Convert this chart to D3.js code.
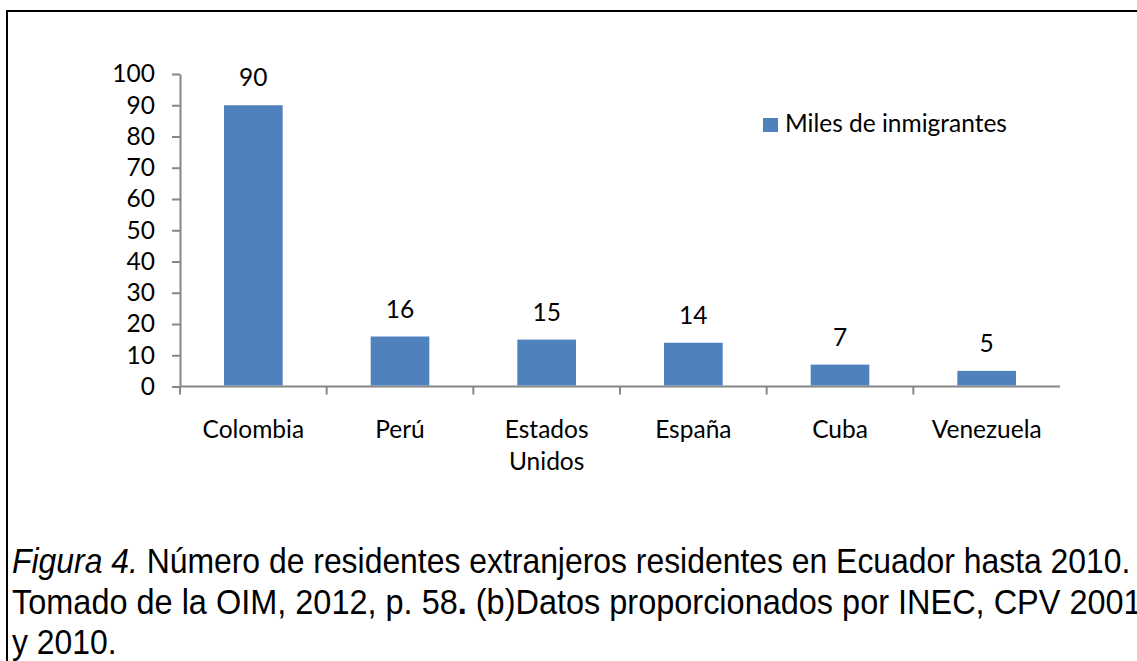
<!DOCTYPE html>
<html>
<head>
<meta charset="utf-8">
<script src="https://cdn.jsdelivr.net/npm/d3@7"></script>
<style>
  body { margin: 0; background: #fff; }
  svg { display: block; }
  .chart-text { font-family: Lato, "Noto Sans", sans-serif; font-size: 24.5px; fill: #000; }
  .caption { font-family: "Liberation Sans", Arial, sans-serif; font-size: 35px; fill: #000; }
</style>
</head>
<body>
<svg id="canvas"></svg>
<script>
// Data
var countries = ['Colombia', 'Perú', 'Estados Unidos', 'España', 'Cuba', 'Venezuela'];
var immigrants = [90, 16, 15, 14, 7, 5];
var yTicks = [0, 10, 20, 30, 40, 50, 60, 70, 80, 90, 100];
var seriesName = 'Miles de inmigrantes';
var captionLines = [
  [{ text: 'Figura 4.', italic: true }, { text: ' Número de residentes extranjeros residentes en Ecuador hasta 2010.' }],
  [{ text: 'Tomado de la OIM, 2012, p. 58' }, { text: '.', bold: true }, { text: ' (b)Datos proporcionados por INEC, CPV 2001' }],
  [{ text: 'y 2010.' }]
];

// Canvas size
var canvasWidth = 1137;
var canvasHeight = 661;

// Plot area
var plot = {
  left: 180,
  right: 1060,
  top: 74,
  bottom: 386.5
};

var barColor = '#4f81bd';
var axisColor = '#868686';

function drawChart() {
  var svg = d3.select('#canvas')
    .attr('width', canvasWidth)
    .attr('height', canvasHeight);

  svg.append('rect')
    .attr('width', canvasWidth)
    .attr('height', canvasHeight)
    .attr('fill', '#fff');

  // Frame (top and left edges only show)
  svg.append('path')
    .attr('d', 'M7,' + canvasHeight + 'V11H' + canvasWidth)
    .attr('fill', 'none')
    .attr('stroke', '#000')
    .attr('stroke-width', 2);

  // Scales
  var xScale = d3.scaleBand()
    .domain(countries)
    .range([plot.left, plot.right])
    .paddingInner(0.6)
    .paddingOuter(0.3);

  var yScale = d3.scaleLinear()
    .domain([0, 100])
    .range([plot.bottom, plot.top]);

  // Y axis
  var yAxis = d3.axisLeft(yScale)
    .tickValues(yTicks)
    .tickSizeInner(8)
    .tickSizeOuter(0)
    .tickPadding(17);

  var yAxisGroup = svg.append('g')
    .attr('transform', 'translate(' + plot.left + ',0)')
    .call(yAxis);

  yAxisGroup.selectAll('.domain, line')
    .attr('stroke', axisColor)
    .attr('stroke-width', 2);

  yAxisGroup.selectAll('text')
    .attr('class', 'chart-text')
    .attr('fill', '#000')
    .attr('font-family', null)
    .attr('font-size', null);

  // X axis line and category ticks
  var step = xScale.step();
  var xAxisGroup = svg.append('g');

  xAxisGroup.append('line')
    .attr('x1', plot.left)
    .attr('x2', plot.right)
    .attr('y1', plot.bottom)
    .attr('y2', plot.bottom)
    .attr('stroke', axisColor)
    .attr('stroke-width', 2);

  xAxisGroup.selectAll('.cat-tick')
    .data(countries)
    .enter()
    .append('line')
    .attr('class', 'cat-tick')
    .attr('x1', function(d) { return xScale(d) - step * 0.3; })
    .attr('x2', function(d) { return xScale(d) - step * 0.3; })
    .attr('y1', plot.bottom)
    .attr('y2', plot.bottom + 8)
    .attr('stroke', axisColor)
    .attr('stroke-width', 2);

  // Category labels (wrapped at spaces)
  var catLabels = xAxisGroup.selectAll('.cat-label')
    .data(countries)
    .enter()
    .append('text')
    .attr('class', 'chart-text cat-label')
    .attr('text-anchor', 'middle')
    .attr('x', function(d) { return xScale(d) + xScale.bandwidth() / 2; })
    .attr('y', 438);

  catLabels.each(function(d) {
    var words = d.split(' ');
    var el = d3.select(this);
    words.forEach(function(w, i) {
      el.append('tspan')
        .attr('x', xScale(d) + xScale.bandwidth() / 2)
        .attr('dy', i === 0 ? 0 : 32)
        .text(w);
    });
  });

  // Bars
  svg.append('g')
    .selectAll('rect')
    .data(immigrants)
    .enter()
    .append('rect')
    .attr('x', function(d, i) { return xScale(countries[i]); })
    .attr('y', function(d) { return yScale(d); })
    .attr('width', xScale.bandwidth())
    .attr('height', function(d) { return plot.bottom - 1 - yScale(d); })
    .attr('fill', barColor);

  // Value labels
  svg.append('g')
    .selectAll('text')
    .data(immigrants)
    .enter()
    .append('text')
    .attr('class', 'chart-text')
    .attr('text-anchor', 'middle')
    .attr('x', function(d, i) { return xScale(countries[i]) + xScale.bandwidth() / 2; })
    .attr('y', function(d) { return yScale(d) - 19; })
    .text(function(d) { return d; });

  // Legend
  var legend = svg.append('g')
    .attr('transform', 'translate(763,118)');

  legend.append('rect')
    .attr('width', 15)
    .attr('height', 14)
    .attr('fill', barColor);

  legend.append('text')
    .attr('class', 'chart-text')
    .attr('x', 22)
    .attr('y', 14)
    .text(seriesName);

  // Caption (narrow Arial look: horizontal squeeze per line)
  var baselines = [573, 614, 654];
  var lineEnds = [1131, 1142, null];

  var captionGroups = svg.selectAll('.caption-line')
    .data(captionLines)
    .enter()
    .append('g')
    .attr('class', 'caption-line');

  var sxFirst = 1;
  captionGroups.each(function(parts, i) {
    var g = d3.select(this);
    var el = g.append('text')
      .attr('class', 'caption')
      .attr('x', 0)
      .attr('y', baselines[i]);
    parts.forEach(function(p) {
      el.append('tspan')
        .attr('font-style', p.italic ? 'italic' : null)
        .attr('font-weight', p.bold ? 'bold' : null)
        .text(p.text);
    });
    var w = el.node().getComputedTextLength();
    var sx = lineEnds[i] ? (lineEnds[i] - 12) / w : sxFirst;
    if (i === 0) sxFirst = sx;
    g.attr('transform', 'translate(12,0) scale(' + sx + ',1)');
  });
}

drawChart();
</script>
</body>
</html>
